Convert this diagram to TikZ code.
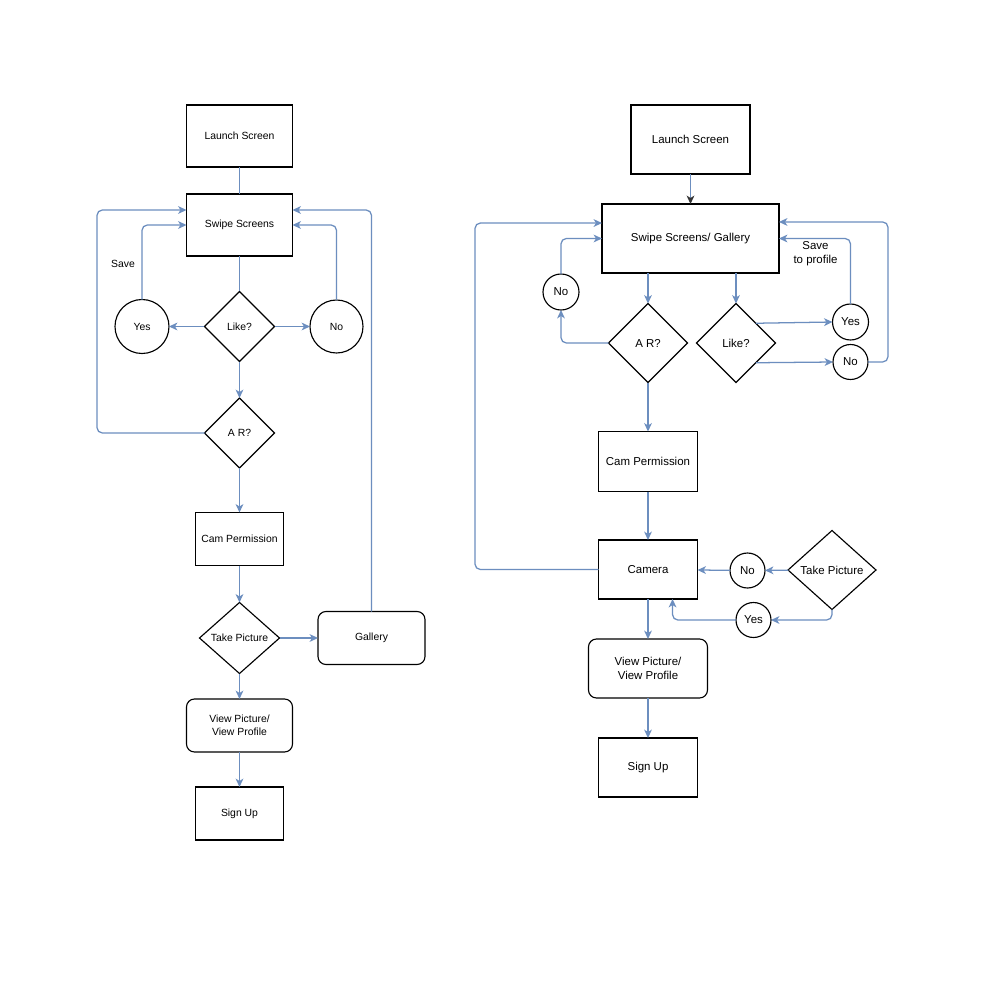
\documentclass[tikz,border=0pt]{standalone}
\usepackage{fontspec}
\setmainfont{Liberation Sans}
\usetikzlibrary{shapes.geometric,arrows.meta}
\definecolor{flow}{RGB}{108,142,191}
\begin{document}
\begin{tikzpicture}[x=0.75pt,y=-0.75pt,
  sz/.style 2 args={minimum width=#1*0.75pt,minimum height=#2*0.75pt},
  base/.style={draw=black,line width=0.85pt,inner sep=0pt,outer sep=0pt,align=center},
  sbox/.style={base,rectangle},
  rbox/.style={base,rectangle,rounded corners=6pt},
  dia/.style={base,diamond,aspect=1},
  circ/.style={base,circle},
  lfont/.style={font=\fontsize{7.8}{9.6}\selectfont},
  rfont/.style={font=\fontsize{8.6}{10.6}\selectfont},
  line/.style={draw=flow,line width=0.95pt,rounded corners=4pt},
  arr/.style={line,-{Stealth[length=6.3pt,width=5.8pt,inset=1.8pt]}},
  darr/.style={line,-{Stealth[length=6.3pt,width=5.8pt,inset=1.8pt,black!80]}},
  txt/.style={inner sep=0pt,align=center}
]
\fill[white] (0,0) rectangle (1000,992);
\useasboundingbox (0,0) rectangle (1000,992);

% ---------- Left diagram ----------
\begin{scope}[lfont]
\node[sbox,sz={106}{62}] (L1) at (239.5,136) {Launch Screen};
\node[sbox,sz={106}{62}] (L2) at (239.5,225) {Swipe Screens};
\node[dia,sz={70}{70}] (Llike) at (239.5,326.5) {\makebox[0pt]{Like?}};
\node[circ,minimum size=54*0.75pt] (Lyes) at (142,326.5) {Yes};
\node[circ,minimum size=53*0.75pt] (Lno) at (336.5,326.5) {No};
\node[dia,sz={70}{70}] (Lar) at (239.5,433) {\makebox[0pt]{A R?}};
\node[sbox,sz={88}{53}] (Lcam) at (239.5,539) {Cam Permission};
\node[dia,sz={80}{71}] (Ltake) at (239.5,638) {\makebox[0pt]{Take Picture}};
\node[rbox,sz={107}{53}] (Lgal) at (371.5,638) {Gallery};
\node[rbox,sz={106}{53}] (Lview) at (239.5,725.5) {View Picture/\\View Profile};
\node[sbox,sz={88}{53}] (Lsign) at (239.5,813.5) {Sign Up};
\node[txt] (Lsave) at (123,264) {Save};
\end{scope}

\draw[line] (L1) -- (L2);
\draw[line] (L2) -- (Llike);
\draw[arr] (Llike) -- (Lyes);
\draw[arr] (Llike) -- (Lno);
\draw[arr] (Lyes.north) |- (L2.west);
\draw[arr] (Lno.north) |- (L2.east);
\draw[arr] (Llike) -- (Lar);
\draw[arr] (Lar.west) -- (97,433) |- ([yshift=11.25pt]L2.west);
\draw[arr] (Lgal.north) |- ([yshift=11.25pt]L2.east);
\draw[arr] (Lar) -- (Lcam);
\draw[arr] (Lcam) -- (Ltake);
\draw[arr] (Ltake) -- (Lgal);
\draw[arr] (Ltake) -- (Lview);
\draw[arr] (Lview) -- (Lsign);

% ---------- Right diagram ----------
\begin{scope}[rfont]
\node[sbox,sz={119}{69}] (R1) at (690.5,139.5) {Launch Screen};
\node[sbox,sz={177}{69}] (RSw) at (690.5,238.5) {Swipe Screens/ Gallery};
\node[circ,minimum size=36*0.75pt] (RNo1) at (561,292) {No};
\node[dia,sz={79}{79}] (RAR) at (648,343) {\makebox[0pt]{A R?}};
\node[dia,sz={79}{79}] (RLike) at (736,343) {\makebox[0pt]{Like?}};
\node[circ,minimum size=36*0.75pt] (RYes) at (850.5,322) {Yes};
\node[circ,minimum size=35*0.75pt] (RNo2) at (850.5,362) {No};
\node[sbox,sz={99}{60}] (RCamP) at (648,461.5) {Cam Permission};
\node[sbox,sz={99}{59}] (RCamera) at (648,569.5) {Camera};
\node[circ,minimum size=35*0.75pt] (RNo3) at (747.5,570.5) {No};
\node[dia,sz={88}{79}] (RTake) at (832,570) {\makebox[0pt]{Take Picture}};
\node[circ,minimum size=35*0.75pt] (RYes3) at (753.5,620) {Yes};
\node[rbox,sz={119}{59}] (RView) at (648,668.5) {View Picture/\\View Profile};
\node[sbox,sz={99}{59}] (RSign) at (648,767.5) {Sign Up};
\node[txt] (RSave) at (815.5,253.5) {Save\\to profile};
\end{scope}

\draw[darr] (R1) -- (RSw);
\draw[arr] (RAR.north |- RSw.south) -- (RAR.north);
\draw[arr] (RLike.north |- RSw.south) -- (RLike.north);
\draw[arr] (RAR.west) -| (RNo1.south);
\draw[arr] (RNo1.north) |- (RSw.west);
\draw[arr] (RCamera.west) -- (475,569.5) |- ([yshift=11.6pt]RSw.west);
\draw[arr] (RLike.north east) -- (RYes.west);
\draw[arr] (RLike.south east) -- (RNo2.west);
\draw[arr] (RYes.north) |- (RSw.east);
\draw[arr] (RNo2.east) -- (888,362) |- ([yshift=12.4pt]RSw.east);
\draw[arr] (RAR) -- (RCamP);
\draw[arr] (RCamP) -- (RCamera);
\draw[arr] (RTake) -- (RNo3);
\draw[arr] (RNo3) -- (RCamera);
\draw[arr] (RTake.south) |- (RYes3.east);
\draw[arr] (RYes3.west) -| ([xshift=18.4pt]RCamera.south);
\draw[arr] (RCamera) -- (RView);
\draw[arr] (RView) -- (RSign);
\end{tikzpicture}
\end{document}
